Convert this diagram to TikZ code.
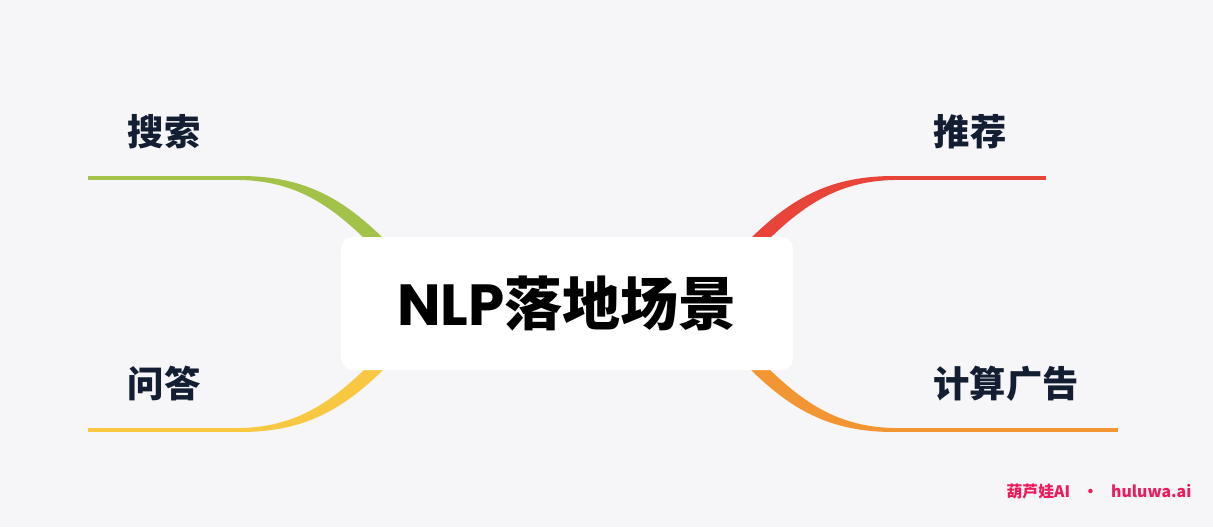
\documentclass[tikz,border=0pt]{standalone}
\usepackage{fontspec}
\newfontfamily\cjk{Noto Sans CJK SC}
\newfontfamily\lat{Poppins}
\usetikzlibrary{calc}

\definecolor{bg}{HTML}{F6F6F8}
\definecolor{ink}{HTML}{141E33}
\definecolor{lgreen}{HTML}{A2C24A}
\definecolor{lred}{HTML}{E8443A}
\definecolor{lyellow}{HTML}{F8C843}
\definecolor{lorange}{HTML}{F29533}
\definecolor{pink}{HTML}{EE1A5B}

\begin{document}
\begin{tikzpicture}[x=0.03cm,y=-0.03cm,
    root/.style={fill=white,rounded corners=0.36cm,inner sep=0pt,
        minimum width=13.56cm,minimum height=3.99cm},
    topic/.style={text=ink,font=\cjk\bfseries\fontsize{31}{31}\selectfont},
    logo/.style={text=pink,font=\cjk\bfseries\fontsize{13.5}{13.5}\selectfont}]
    \fill[bg] (0,0) rectangle (1213,527);

    % branches, mirrored round the centre
    \foreach \c/\sx/\sy/\len in {lgreen/1/1/0,lred/-1/1/0,lyellow/1/-1/0,lorange/-1/-1/72}
    {
    \begin{scope}[shift={(567,304)},xscale=\sx,yscale=\sy]
        \coordinate (end) at (-479-\len,-126);
        \coordinate (bend) at (-327,-126);
        \draw[\c,line width=3.4pt] (end) -- (bend);
        \fill[\c] (-327,-128) .. controls (-267,-128) and (-227,-109) .. (-182,-64)
            -- (-201,-64) .. controls (-237,-99) and (-272,-123) .. (-327,-124) -- cycle;
    \end{scope}
    }

    \node[root] (root) at (567,303.5)
        {\fontsize{49.5}{49.5}\selectfont\bfseries{\lat NLP}\cjk 落地场景};

    \node[topic] (search) at (164,132) {搜索};
    \node[topic] (recommend) at (970,132) {推荐};
    \node[topic] (qa) at (164,384) {问答};
    \node[topic] (ads) at (1006,384) {计算广告};

    \node[logo] (brand) at (1099,492) {葫芦娃AI\hspace{0.8em}·\hspace{0.8em}huluwa.ai};
\end{tikzpicture}
\end{document}
